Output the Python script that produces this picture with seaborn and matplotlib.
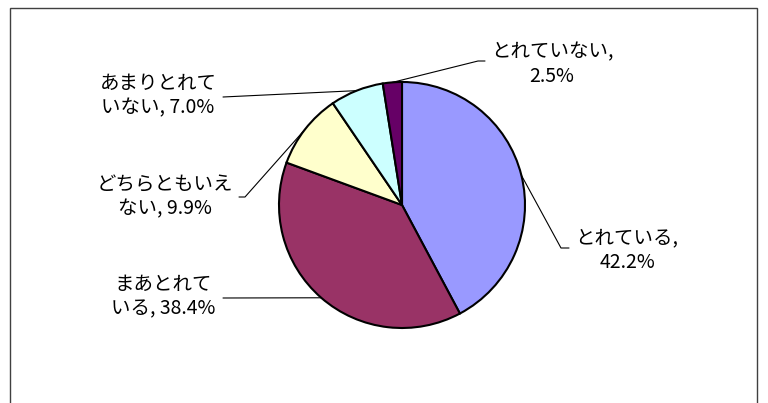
import matplotlib
matplotlib.use("Agg")
import matplotlib.pyplot as plt
import seaborn as sns
import numpy as np

# data
labels = ["とれている,\n42.2%", "まあとれて\nいる, 38.4%", "どちらともいえ\nない, 9.9%",
          "あまりとれて\nいない, 7.0%", "とれていない,\n2.5%"]
values = [42.2, 38.4, 9.9, 7.0, 2.5]
colors = ["#9999FF", "#993366", "#FFFFCC", "#CCFFFF", "#660066"]

# label centres and leader-line ends (pixel coords, y from top)
label_pos = [(627, 250), (163, 297), (165, 197), (158, 96), (552, 64)]
leader_end = [(561, 248), (223, 298), (245, 197), (223, 97), (478, 61)]
tick_dx = [8, 0, -6, 0, 7]

W, H = 768, 403
cx, cy, r = 402, 205, 123

sns.set_theme(style="white")
plt.rcParams["font.family"] = ["Noto Sans CJK JP", "DejaVu Sans"]

fig = plt.figure(figsize=(W / 100, H / 100), dpi=100)
ax = fig.add_axes([0, 0, 1, 1])
ax.set_xlim(0, W)
ax.set_ylim(0, H)
ax.set_aspect("equal")
ax.axis("off")

wedges, _ = ax.pie(values, colors=colors, startangle=90, counterclock=False,
                   center=(cx, H - cy), radius=r,
                   wedgeprops=dict(edgecolor="black", linewidth=1.5))
ax.set_xlim(0, W)
ax.set_ylim(0, H)

for w, lab, (lx, ly), (ex, ey), dx in zip(wedges, labels, label_pos, leader_end, tick_dx):
    mid = np.deg2rad((w.theta1 + w.theta2) / 2)
    px = cx + r * np.cos(mid)
    py = (H - cy) + r * np.sin(mid)
    ax.plot([px, ex, ex + dx], [py, H - ey, H - ey], color="black", lw=0.8)
    ax.text(lx, H - ly, lab, ha="center", va="center", fontsize=14,
            linespacing=1.2, color="black")

frame = plt.Rectangle((10 / W, -0.01), (757 - 10) / W, 1 - 8 / H + 0.01,
                      transform=fig.transFigure, fill=False,
                      edgecolor="#404040", linewidth=1.0)
fig.patches.append(frame)

fig.savefig("out.png", dpi=100)
